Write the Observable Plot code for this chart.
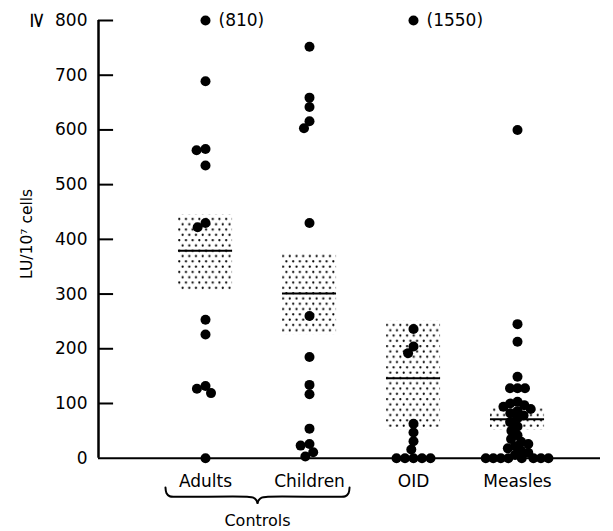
<!DOCTYPE html>
<html><head><meta charset="utf-8">
<script src="https://cdn.jsdelivr.net/npm/d3@7"></script>
<script src="https://cdn.jsdelivr.net/npm/@observablehq/plot@0.6"></script>
<style>
body{margin:0;background:#fff}
#wrap{position:relative;width:613px;height:531px}
#wrap > svg{position:absolute;left:0;top:0}
</style>
</head><body><div id="wrap"></div>
<script>
// ---- data ----
const groups = ["Adults", "Children", "OID", "Measles"];
const adults   = [810, 689, 565, 563, 535, 430, 422, 253, 226, 132, 127, 119, 0];
const children = [752, 659, 642, 616, 603, 430, 260, 185, 134, 117, 54, 26, 23, 11, 3];
const oid      = [1550, 236, 204, 192, 63, 47, 31, 16, 0, 0, 0, 0, 0];
const measles  = [600, 245, 213, 149, 128, 128, 128, 103, 100, 97, 94, 90, 86, 82, 78, 72, 66, 58, 50, 42, 35, 30, 26, 22, 18, 14, 10, 6, 0, 0, 0, 0, 0, 0, 0, 0];
const boxLow   = [305, 226, 52, 51];
const boxHigh  = [444, 374, 250, 94];
const medians  = [379, 301, 146, 71];
const yTicks   = [0, 100, 200, 300, 400, 500, 600, 700, 800];
const yCap     = 800;
const yLabel   = "LU/10\u2077 cells";
const groupLabel = "Controls";

// ---- layout ----
const W = 613, H = 531, MT = 20, MB = 73.3, ML = 98, MR = 13;
const x0 = 1.029;                 // first group sits one step right of the y axis
const xDomain = [0, 4.827];
const gx = i => i + x0;
const halfBox = 0.26;
const tickLen = 0.145;
const series = {Adults: adults, Children: children, OID: oid, Measles: measles};
const dodgePad = {Adults: -1, Children: -1, OID: -1.5, Measles: -2.5};

const boxes = groups.map((g, i) => ({i, lo: boxLow[i], hi: boxHigh[i], med: medians[i]}));
const overs = groups.flatMap((g, i) => series[g].filter(v => v > yCap).map(v => ({i, v})));
const tickRows = yTicks.filter(t => t > 0).map(t => ({t}));

// brace under Adults + Children
const a = gx(0) - 0.385, m = gx(0.5);
const braceL = [[a,-53.5],[a+0.01,-64],[a+0.04,-69.5],[a+0.1,-70.5],[m-0.1,-70.5],[m-0.04,-72],[m-0.01,-77],[m,-82]];
const brace = [
  ...braceL.map(([x, y]) => ({x, y, s: "L"})),
  ...braceL.map(([x, y]) => ({x: 2*m - x, y, s: "R"}))
];

const font = {fontFamily: "DejaVu Sans", fontSize: "17px", color: "black", background: "transparent", overflow: "visible"};

const basePlot = Plot.plot({
  width: W, height: H, marginTop: MT, marginBottom: MB, marginLeft: ML, marginRight: MR,
  style: font,
  x: {domain: xDomain, axis: null},
  y: {domain: [0, 800], ticks: yTicks, tickSize: 0, tickPadding: 11, tickFormat: d => String(d), label: null},
  marks: [
    Plot.rect(boxes, {x1: d => gx(d.i) - halfBox, x2: d => gx(d.i) + halfBox, y1: "lo", y2: "hi", fill: "url(#dotpat)"}),
    Plot.ruleY(boxes, {x1: d => gx(d.i) - halfBox, x2: d => gx(d.i) + halfBox, y: "med", stroke: "black", strokeWidth: 2}),
    Plot.ruleY([0], {stroke: "black", strokeWidth: 2}),
    Plot.ruleX([xDomain[0]], {y1: 0, y2: 800, stroke: "black", strokeWidth: 2.5}),
    Plot.ruleY(tickRows, {y: "t", x1: () => xDomain[0], x2: () => xDomain[0] + tickLen, stroke: "black", strokeWidth: 2}),
    Plot.text(groups, {x: (d, i) => gx(i), y: 0, dy: 23, text: d => d, fontSize: 17}),
    Plot.text(overs, {x: d => gx(d.i), y: yCap, dx: 13, text: d => `(${d.v})`, textAnchor: "start", fontSize: 17}),
    Plot.line(brace, {x: "x", y: "y", z: "s", curve: "catmull-rom", stroke: "black", strokeWidth: 2}),
    Plot.text([groupLabel], {x: m, y: 0, dy: 62.5, fontSize: 16}),
    Plot.text(["\u2265"], {frameAnchor: "left", y: yCap, dx: -61, rotate: 90, textAnchor: "middle", fontSize: 21}),
    Plot.text([yLabel], {frameAnchor: "left", y: 410, dx: -71, rotate: -90, textAnchor: "middle", fontSize: 15.5})
  ]
});

const svgBase = basePlot.tagName.toLowerCase() === "svg" ? basePlot : basePlot.querySelector("svg");
const defs = d3.select(svgBase).insert("defs", ":first-child");
const pat = defs.append("pattern").attr("id", "dotpat").attr("patternUnits", "userSpaceOnUse")
  .attr("width", 6.7).attr("height", 10.6);
pat.append("circle").attr("cx", 1.7).attr("cy", 1.7).attr("r", 1.1).attr("fill", "black");
pat.append("circle").attr("cx", 5.05).attr("cy", 7).attr("r", 1.1).attr("fill", "black");

const dotPlot = Plot.plot({
  width: W, height: H, marginTop: MT, marginBottom: MB, marginLeft: 178, marginRight: 69,
  style: font,
  y: {domain: [0, 800], axis: null},
  fx: {domain: groups, paddingInner: 0.4808, paddingOuter: 0, axis: null},
  marks: groups.map(g => Plot.dot(
    series[g].map(v => ({group: g, value: v})),
    Plot.dodgeX({anchor: "middle", padding: dodgePad[g]},
      {fx: "group", y: d => Math.min(d.value, yCap), r: 5, fill: "black"})
  ))
});

const wrap = document.getElementById("wrap");
wrap.append(basePlot);
wrap.append(dotPlot);
</script>
</body></html>
